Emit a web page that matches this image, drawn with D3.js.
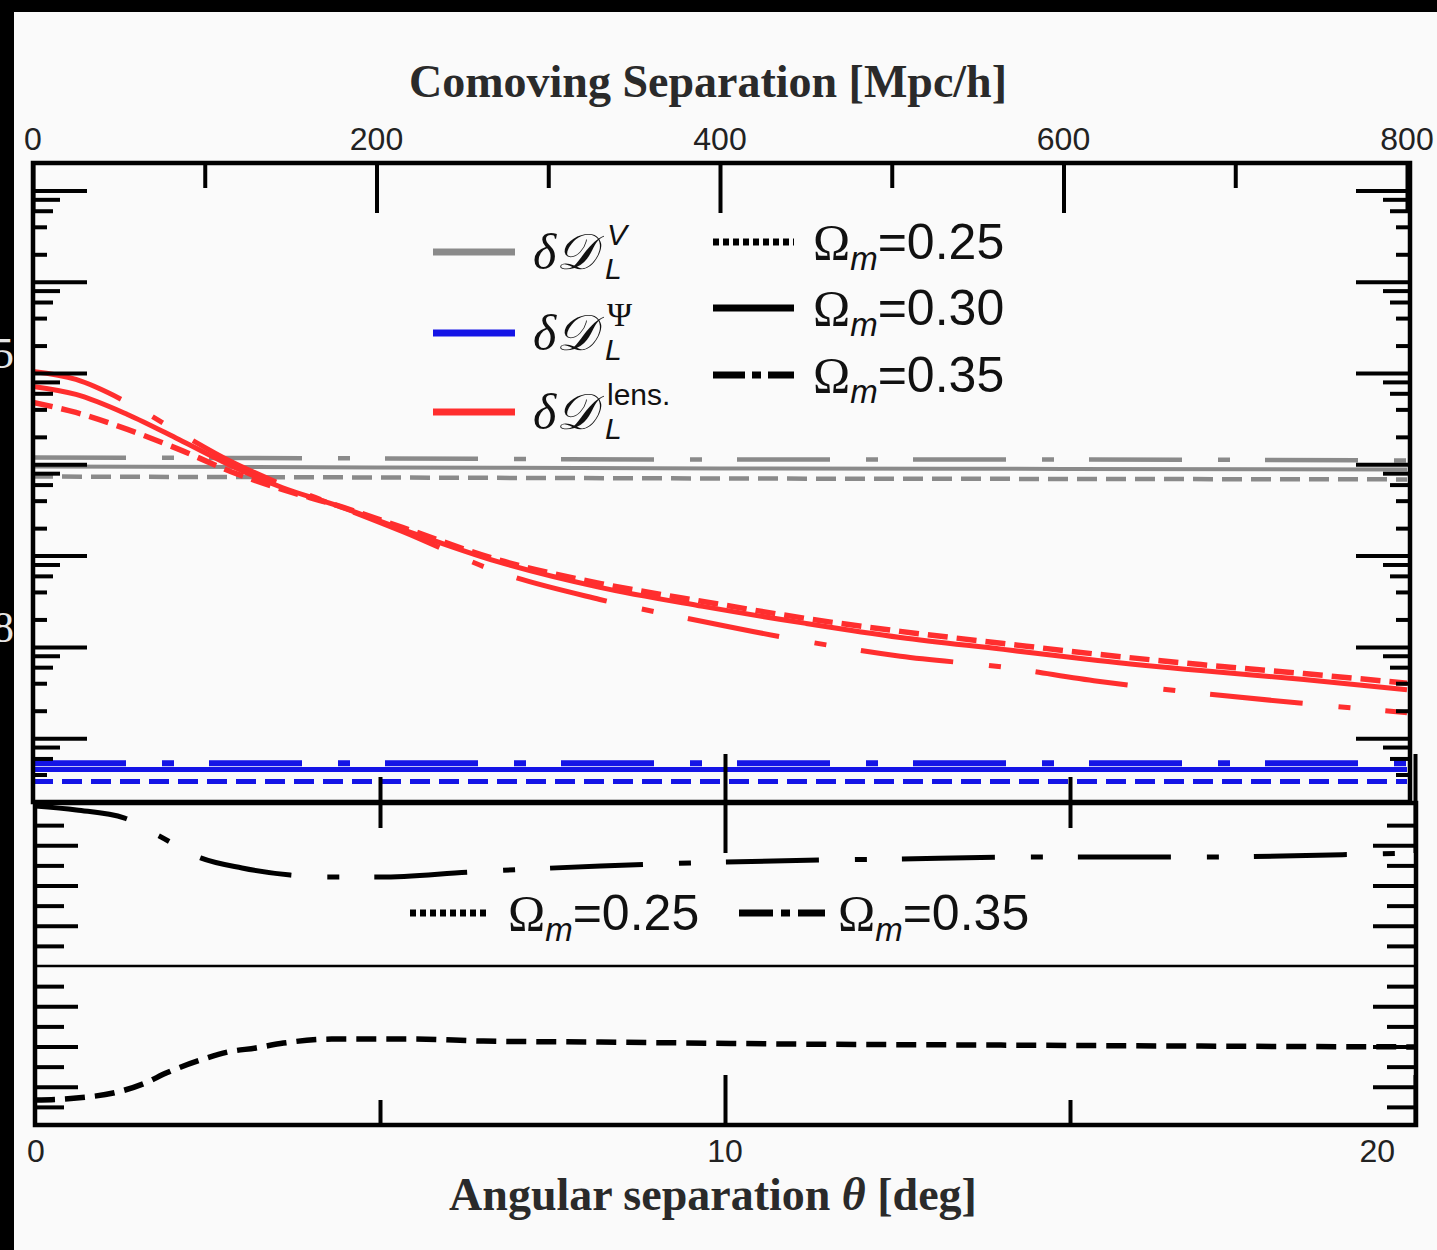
<!DOCTYPE html>
<html>
<head>
	<meta charset="utf-8">
	<title>Luminosity distance perturbations</title>
	<script src="https://d3js.org/d3.v7.min.js"></script>
	<style>
		body { margin: 0; background: #000; }
		svg { display: block; }
		.tick-label { font-family: "Liberation Sans", Arial, sans-serif; font-size: 32px; fill: #222; }
		.title { font-family: "Liberation Serif", "Times New Roman", serif; font-weight: bold; font-size: 46px; fill: #2a2a2a; }
		.leg { font-family: "Liberation Sans", Arial, sans-serif; fill: #111; }
	</style>
</head>
<body>
<script>

// ---- data ----
// top panel, x = comoving separation [Mpc/h], y = log-scale amplitude
var sepLens = [0, 25, 55, 85, 115, 145, 175, 215, 270, 330, 390, 450, 505, 565, 620, 680, 740, 800];
var lens025 = [4.76e-6, 3.70e-6, 2.41e-6, 1.46e-6, 8.36e-7, 5.31e-7, 3.64e-7, 2.04e-7, 9.08e-8, 4.97e-8, 3.15e-8, 2.05e-8, 1.48e-8, 1.09e-8, 8.3e-9, 6.4e-9, 5.1e-9, 4.0e-9];
var lens030 = [7.13e-6, 5.83e-6, 3.52e-6, 1.87e-6, 9.73e-7, 5.58e-7, 3.64e-7, 1.94e-7, 8.64e-8, 4.49e-8, 2.78e-8, 1.81e-8, 1.27e-8, 9.4e-9, 7.1e-9, 5.5e-9, 4.4e-9, 3.4e-9];
var lens035 = [1.04e-5, 8.51e-6, 4.76e-6, 2.23e-6, 1.08e-6, 6.03e-7, 3.64e-7, 1.84e-7, 6.71e-8, 3.31e-8, 1.90e-8, 1.15e-8, 7.9e-9, 6.0e-9, 4.2e-9, 3.1e-9, 2.4e-9, 1.9e-9];

var sepFlat = [0, 200, 400, 600, 800];
var vel025 = [7.36e-7, 7.18e-7, 7.00e-7, 6.92e-7, 6.84e-7];
var vel030 = [9.48e-7, 9.25e-7, 9.02e-7, 8.91e-7, 8.79e-7];
var vel035 = [1.19e-6, 1.16e-6, 1.13e-6, 1.13e-6, 1.10e-6];
var pot025 = [3.36e-10, 3.36e-10, 3.36e-10, 3.36e-10, 3.36e-10];
var pot030 = [4.55e-10, 4.55e-10, 4.55e-10, 4.55e-10, 4.55e-10];
var pot035 = [5.30e-10, 5.30e-10, 5.30e-10, 5.30e-10, 5.30e-10];

// bottom panel, x = angular separation [deg], y = relative difference to Om=0.30
var theta035 = [0, 0.6, 1.3, 1.8, 2.4, 3.0, 3.7, 4.3, 5.0, 6.3, 8.2, 10, 12.5, 14.7, 16.9, 19.4, 20];
var ratio035 = [0.0795, 0.0775, 0.0735, 0.0646, 0.0537, 0.0487, 0.0452, 0.0442, 0.0442, 0.0467, 0.0497, 0.0517, 0.0532, 0.0542, 0.0542, 0.0557, 0.0562];
var theta025 = [0, 0.6, 1.2, 1.6, 1.9, 2.4, 2.8, 3.2, 3.6, 4.3, 5.5, 6.5, 8.2, 11.1, 14, 16.9, 20];
var ratio025 = [-0.0666, -0.0656, -0.0626, -0.0581, -0.0532, -0.0467, -0.0427, -0.0407, -0.0383, -0.0363, -0.0363, -0.0373, -0.0378, -0.0388, -0.0393, -0.0398, -0.0402];
var theta030 = [0, 20];
var ratio030 = [0, 0];

// ticks
var sepMajor = [0, 200, 400, 600, 800];
var sepMinor = [100, 300, 500, 700];
var angMajor = [10, 20];
var angMinor = [5, 15];
var angLabels = [0, 10, 20];
var decades = [-10, -9, -8, -7, -6, -5, -4, -3];
var decadeLabels = [{ v: 1e-5, t: "5" }, { v: 1e-8, t: "8" }];
var ratioMajor = [-0.06, -0.04, -0.02, 0.02, 0.04, 0.06];
var ratioMinor = [-0.07, -0.05, -0.03, -0.01, 0.01, 0.03, 0.05, 0.07];

var cosmoLabels = ["0.25", "0.30", "0.35"];

// ---- layout ----
var width = 1437, height = 1250;
var topP = { x0: 33, x1: 1410, y0: 163, y1: 802 };
var botP = { x0: 35, x1: 1416, y0: 803, y1: 1125 };

var grey = "#8a8a8a", blue = "#1414e6", red = "#ff2e2e";
var DASH = "20,9", DASHDOT = "93,36,12,35";

var xSep = d3.scaleLinear().domain([0, 800]).range([33, 1407]);
var yTop = d3.scaleLog().domain([2e-10, 2e-3]).range([topP.y1, topP.y0]);
var xAng = d3.scaleLinear().domain([0, 20]).range([35, 1415]);
var yRat = d3.scaleLinear().domain([-0.079, 0.081]).range([botP.y1, botP.y0]);

var svg = d3.select("body").append("svg")
	.attr("width", width)
	.attr("height", height);

svg.append("rect").attr("width", width).attr("height", height).attr("fill", "#fafafa");

var defs = svg.append("defs");
defs.append("clipPath").attr("id", "clipTop").append("rect")
	.attr("x", topP.x0).attr("y", topP.y0)
	.attr("width", topP.x1 - topP.x0).attr("height", topP.y1 - topP.y0);
defs.append("clipPath").attr("id", "clipBot").append("rect")
	.attr("x", botP.x0).attr("y", botP.y0)
	.attr("width", botP.x1 - botP.x0).attr("height", botP.y1 - botP.y0);

function pathFor(xs, ys, xs_, ys_) {
	return d3.line()
		.x(function(d, i) { return xs_(xs[i]); })
		.y(function(d) { return ys_(d); })
		.curve(d3.curveMonotoneX)(ys);
}

// ---- top panel curves ----
var topSeries = [
	{ x: sepFlat, y: vel035, c: grey, d: DASHDOT, w: 4.5 },
	{ x: sepFlat, y: vel030, c: grey, d: null, w: 4 },
	{ x: sepFlat, y: vel025, c: grey, d: DASH, w: 4.5 },
	{ x: sepLens, y: lens035, c: red, d: DASHDOT, w: 5 },
	{ x: sepLens, y: lens025, c: red, d: DASH, w: 5.5 },
	{ x: sepLens, y: lens030, c: red, d: null, w: 5 },
	{ x: sepFlat, y: pot035, c: blue, d: DASHDOT, w: 6 },
	{ x: sepFlat, y: pot030, c: blue, d: null, w: 5 },
	{ x: sepFlat, y: pot025, c: blue, d: DASH, w: 5 }
];

var gTop = svg.append("g").attr("clip-path", "url(#clipTop)");
gTop.selectAll("path")
	.data(topSeries)
	.enter().append("path")
	.attr("d", function(s) { return pathFor(s.x, s.y, xSep, yTop); })
	.attr("fill", "none")
	.attr("stroke", function(s) { return s.c; })
	.attr("stroke-width", function(s) { return s.w; })
	.attr("stroke-dasharray", function(s) { return s.d; });

// ---- bottom panel curves ----
var botSeries = [
	{ x: theta030, y: ratio030, d: null, w: 2.5 },
	{ x: theta035, y: ratio035, d: DASHDOT, w: 5 },
	{ x: theta025, y: ratio025, d: "20,10", w: 5.5 }
];
var gBot = svg.append("g").attr("clip-path", "url(#clipBot)");
gBot.selectAll("path")
	.data(botSeries)
	.enter().append("path")
	.attr("d", function(s) { return pathFor(s.x, s.y, xAng, yRat); })
	.attr("fill", "none")
	.attr("stroke", "#000")
	.attr("stroke-width", function(s) { return s.w; })
	.attr("stroke-dasharray", function(s) { return s.d; });

// ---- ticks ----
function tickAxis(axis, tx, ty, width_) {
	var g = svg.append("g")
		.attr("transform", "translate(" + tx + "," + ty + ")")
		.call(axis);
	g.select(".domain").remove();
	g.selectAll(".tick line")
		.attr("stroke", "#000")
		.attr("stroke-width", width_ || 4);
	g.selectAll(".tick text").remove();
	return g;
}

// log ticks on both sides of the top panel
var logGroups = [
	{ m: [1], len: 54 },
	{ m: [8], len: 27 },
	{ m: [6], len: 20 },
	{ m: [2, 4], len: 14 }
];
logGroups.forEach(function(gr) {
	var vals = [];
	decades.forEach(function(e) {
		gr.m.forEach(function(k) {
			var v = k * Math.pow(10, e);
			if (v > 2.05e-10 && v < 1.95e-3) vals.push(v);
		});
	});
	tickAxis(d3.axisRight(yTop).tickValues(vals).tickSize(gr.len).tickFormat(""), topP.x0, 0);
	tickAxis(d3.axisLeft(yTop).tickValues(vals).tickSize(gr.len).tickFormat(""), topP.x1, 0);
});

// comoving ticks on top
tickAxis(d3.axisBottom(xSep).tickValues(sepMajor).tickSize(50), 0, topP.y0);
tickAxis(d3.axisBottom(xSep).tickValues(sepMinor).tickSize(25), 0, topP.y0);

// angular ticks on both panel borders
tickAxis(d3.axisTop(xAng).tickValues(angMajor).tickSize(48), 0, topP.y1);
tickAxis(d3.axisTop(xAng).tickValues(angMinor).tickSize(25), 0, topP.y1);
tickAxis(d3.axisBottom(xAng).tickValues(angMajor).tickSize(50), 0, botP.y0);
tickAxis(d3.axisBottom(xAng).tickValues(angMinor).tickSize(25), 0, botP.y0);
tickAxis(d3.axisTop(xAng).tickValues(angMajor).tickSize(50), 0, botP.y1);
tickAxis(d3.axisTop(xAng).tickValues(angMinor).tickSize(25), 0, botP.y1);

// ratio ticks in the bottom panel
tickAxis(d3.axisRight(yRat).tickValues(ratioMajor).tickSize(43), botP.x0, 0);
tickAxis(d3.axisRight(yRat).tickValues(ratioMinor).tickSize(29), botP.x0, 0);
tickAxis(d3.axisLeft(yRat).tickValues(ratioMajor).tickSize(43), botP.x1, 0);
tickAxis(d3.axisLeft(yRat).tickValues(ratioMinor).tickSize(29), botP.x1, 0);

// frames
svg.append("rect")
	.attr("x", topP.x0).attr("y", topP.y0)
	.attr("width", topP.x1 - topP.x0).attr("height", topP.y1 - topP.y0)
	.attr("fill", "none").attr("stroke", "#000").attr("stroke-width", 4.5);
svg.append("rect")
	.attr("x", botP.x0).attr("y", botP.y0)
	.attr("width", botP.x1 - botP.x0).attr("height", botP.y1 - botP.y0)
	.attr("fill", "none").attr("stroke", "#000").attr("stroke-width", 4.5);

// tick labels
svg.append("g").selectAll("text")
	.data(sepMajor)
	.enter().append("text")
	.attr("class", "tick-label")
	.attr("x", function(d) { return xSep(d); })
	.attr("y", 150)
	.attr("text-anchor", "middle")
	.text(function(d) { return d; });

svg.append("g").selectAll("text")
	.data(angLabels)
	.enter().append("text")
	.attr("class", "tick-label")
	.attr("x", function(d) { return xAng(d); })
	.attr("y", 1162)
	.attr("text-anchor", function(d, i) { return i == angLabels.length - 1 ? "end" : (i == 0 ? "start" : "middle"); })
	.attr("dx", function(d, i) { return i == angLabels.length - 1 ? -20 : (i == 0 ? -8 : 0); })
	.text(function(d) { return d; });

// axis titles
svg.append("text")
	.attr("class", "title")
	.attr("x", 708).attr("y", 97)
	.attr("text-anchor", "middle")
	.text("Comoving Separation [Mpc/h]");

var bt = svg.append("text")
	.attr("class", "title")
	.attr("x", 713).attr("y", 1210)
	.attr("text-anchor", "middle");
bt.append("tspan").text("Angular separation ");
bt.append("tspan").attr("font-style", "italic").text("θ");
bt.append("tspan").text(" [deg]");

// ---- legends ----
var compLeg = [
	{ c: grey, y: 252, sup: "V", supFont: "Liberation Sans", supStyle: "italic" },
	{ c: blue, y: 333, sup: "Ψ", supFont: "Liberation Serif", supStyle: "normal" },
	{ c: red, y: 412, sup: "lens.", supFont: "Liberation Sans", supStyle: "normal" }
];
var lg = svg.append("g");
compLeg.forEach(function(d) {
	lg.append("line")
		.attr("x1", 433).attr("x2", 515)
		.attr("y1", d.y).attr("y2", d.y)
		.attr("stroke", d.c).attr("stroke-width", 7);
	lg.append("text")
		.attr("x", 533).attr("y", d.y + 17)
		.attr("font-family", "Liberation Serif, serif")
		.attr("font-style", "italic")
		.attr("font-size", 50)
		.attr("fill", "#111")
		.text("δ𝒟");
	lg.append("text")
		.attr("class", "leg")
		.attr("x", 605).attr("y", d.y + 27)
		.attr("font-style", "italic")
		.attr("font-size", 30)
		.text("L");
	lg.append("text")
		.attr("x", 607).attr("y", d.y - 7)
		.attr("font-family", d.supFont)
		.attr("font-style", d.supStyle)
		.attr("font-size", d.sup == "Ψ" ? 34 : 30)
		.attr("fill", "#111")
		.text(d.sup);
});

function omegaText(g, x, y, val) {
	var t = g.append("text")
		.attr("class", "leg")
		.attr("x", x).attr("y", y)
		.attr("font-size", 50);
	t.append("tspan").attr("font-family", "Liberation Serif, serif").text("Ω");
	t.append("tspan").attr("font-style", "italic").attr("font-size", 33).attr("dy", 11).text("m");
	t.append("tspan").attr("dy", -11).text("=" + val);
}

var styleLeg = [
	{ d: "6,4", y: 242 },
	{ d: null, y: 308 },
	{ d: "32,7,9,7,32", y: 375 }
];
styleLeg.forEach(function(s, i) {
	lg.append("line")
		.attr("x1", 713).attr("x2", 794)
		.attr("y1", s.y).attr("y2", s.y)
		.attr("stroke", "#000").attr("stroke-width", 7)
		.attr("stroke-dasharray", s.d);
	omegaText(lg, 813, s.y + 17, cosmoLabels[i]);
});

// bottom panel legend
var bl = svg.append("g");
bl.append("line")
	.attr("x1", 410).attr("x2", 488).attr("y1", 913).attr("y2", 913)
	.attr("stroke", "#000").attr("stroke-width", 7).attr("stroke-dasharray", "6,4");
omegaText(bl, 508, 930, cosmoLabels[0]);
bl.append("line")
	.attr("x1", 739).attr("x2", 825).attr("y1", 913).attr("y2", 913)
	.attr("stroke", "#000").attr("stroke-width", 7).attr("stroke-dasharray", "34,8,9,8,34");
omegaText(bl, 838, 930, cosmoLabels[2]);

// ---- dark crop borders with the cut-off decade labels ----
svg.append("rect").attr("width", width).attr("height", 12).attr("fill", "#000");
svg.append("rect").attr("width", 14).attr("height", height).attr("fill", "#000");
svg.append("g").selectAll("text")
	.data(decadeLabels)
	.enter().append("text")
	.attr("x", 14)
	.attr("y", function(d) { return yTop(d.v) - 5; })
	.attr("text-anchor", "end")
	.attr("font-family", "Liberation Serif, serif")
	.attr("font-size", 44)
	.attr("fill", "#e6e6e6")
	.text(function(d) { return d.t; });

</script>
</body>
</html>
